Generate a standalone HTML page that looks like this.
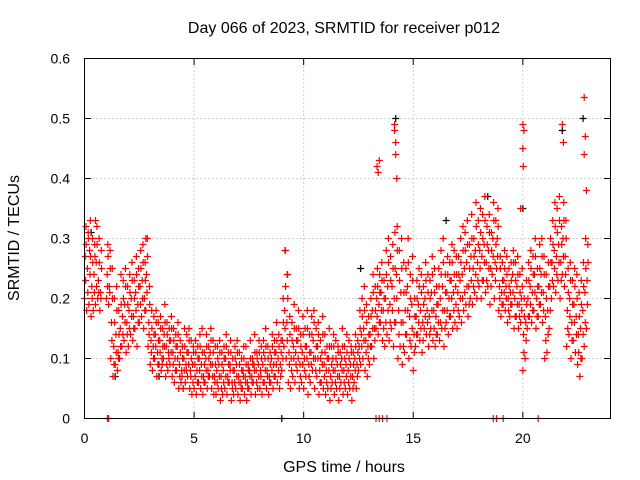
<!DOCTYPE html>
<html><head><meta charset="utf-8"><style>
html,body{margin:0;padding:0;background:#fff}
svg{display:block;font-family:"Liberation Sans",sans-serif}
</style></head><body>
<svg id="chart" width="640" height="480">
<text x="344" y="33" font-size="16" text-anchor="middle">Day 066 of 2023, SRMTID for receiver p012</text>
<text x="344" y="472" font-size="16" text-anchor="middle">GPS time / hours</text>
<text transform="translate(19,238) rotate(-90)" font-size="16" text-anchor="middle">SRMTID / TECUs</text>
<g id="grid"></g><g id="ticks"></g><g id="black"></g><g id="red"></g>
<rect x="84.5" y="58.5" width="526" height="360" fill="none" stroke="#000"/>
</svg>
<script>
const xTicks=[0,5,10,15,20];
const yTicks=[0,0.1,0.2,0.3,0.4,0.5,0.6];
const yTickLabels=["0","0.1","0.2","0.3","0.4","0.5","0.6"];
const slotStart=0, slotStep=0.1;
const slotValues=[
[.20,.27,.32],[.18,.25,.31],[.19,.28,.33],[.17,.22,.30],[.18,.24,.29],[.19,.26,.32],[.20,.23,.30],[.18,.21,.28],[-1,-1,-1],[-1,-1,-1],
[.20,.24,.29],[.19,.22,.28],[.10,.16,.25],[.07,.12,.20],[.09,.14,.22],[.08,.11,.18],[.10,.15,.24],[.12,.17,.23],[.13,.19,.25],[.11,.16,.22],
[.12,.18,.24],[.14,.20,.26],[.13,.17,.23],[.15,.21,.27],[.12,.19,.25],[.16,.22,.28],[.17,.23,.29],[.15,.20,.26],[.18,.24,.30],[.12,.16,.22],
[.09,.13,.18],[.08,.12,.17],[.10,.14,.18],[.07,.11,.16],[.09,.13,.17],[.08,.10,.15],[.10,.14,.19],[.07,.12,.16],[.08,.11,.15],[.09,.13,.17],
[.07,.11,.15],[.06,.10,.14],[.08,.12,.16],[.05,.09,.13],[.06,.08,.12],[.05,.10,.15],[.06,.09,.14],[.07,.11,.15],[.05,.08,.13],[.04,.09,.12],
[.05,.09,.13],[.04,.08,.12],[.06,.10,.14],[.05,.09,.15],[.04,.07,.11],[.06,.10,.14],[.05,.08,.12],[.07,.11,.15],[.05,.09,.13],[.04,.07,.12],
[.04,.08,.12],[.05,.09,.13],[.03,.07,.11],[.04,.08,.12],[.05,.10,.14],[.04,.07,.11],[.06,.09,.13],[.03,.06,.10],[.04,.08,.12],[.05,.09,.13],
[.04,.07,.11],[.03,.06,.10],[.05,.08,.12],[.04,.07,.12],[.03,.06,.09],[.05,.08,.13],[.04,.07,.10],[.06,.09,.14],[.04,.08,.11],[.05,.09,.13],
[.05,.08,.12],[.04,.09,.13],[.06,.10,.15],[.05,.08,.12],[.04,.07,.11],[.06,.10,.14],[.05,.09,.13],[.07,.11,.16],[.06,.10,.14],[.05,.09,.13],
[.08,.13,.20],[.12,.18,.28],[.10,.16,.24],[.06,.11,.17],[.05,.10,.16],[.07,.12,.19],[.06,.11,.15],[.08,.13,.18],[.05,.09,.14],[.06,.11,.17],
[.05,.10,.15],[.07,.12,.18],[.04,.09,.14],[.06,.11,.17],[.08,.13,.18],[.05,.10,.15],[.07,.12,.16],[.04,.08,.13],[.06,.11,.17],[.05,.09,.14],
[.04,.08,.12],[.05,.10,.15],[.03,.07,.12],[.06,.10,.14],[.04,.08,.13],[.05,.09,.12],[.03,.07,.11],[.06,.10,.15],[.04,.08,.12],[.05,.09,.14],
[.04,.08,.13],[.05,.09,.12],[.03,.07,.11],[.06,.10,.14],[.05,.09,.13],[.08,.12,.18],[.09,.14,.20],[.10,.15,.22],[.08,.13,.19],[.07,.12,.17],
[.09,.14,.20],[.12,.18,.24],[.10,.15,.22],[.15,.20,.25],[.14,.19,.24],[.16,.21,.26],[.13,.18,.23],[.12,.20,.28],[.14,.22,.30],[.13,.19,.27],
[.15,.22,.29],[.12,.20,.31],[.16,.24,.32],[.10,.18,.28],[.12,.21,.30],[.09,.16,.26],[.11,.18,.25],[.14,.22,.30],[.10,.17,.24],[.12,.19,.27],
[.08,.14,.20],[.12,.17,.23],[.14,.19,.25],[.13,.18,.24],[.11,.16,.22],[.15,.20,.26],[.14,.18,.24],[.12,.17,.23],[.15,.21,.27],[.13,.18,.25],
[.12,.17,.22],[.14,.19,.25],[.13,.20,.28],[.15,.22,.30],[.12,.18,.24],[.16,.21,.27],[.14,.20,.26],[.17,.23,.29],[.15,.21,.28],[.16,.22,.27],
[.15,.21,.27],[.17,.23,.30],[.16,.24,.32],[.18,.25,.31],[.19,.26,.33],[.17,.22,.29],[.20,.27,.34],[.19,.25,.30],[.21,.28,.36],[.20,.26,.33],
[.22,.28,.35],[.20,.27,.34],[.23,.29,.37],[.21,.26,.32],[.22,.28,.34],[.19,.25,.31],[.24,.30,.36],[.20,.26,.33],[.25,.30,.35],[.18,.22,.27],
[.17,.21,.26],[.19,.23,.28],[.18,.22,.27],[.16,.20,.25],[.17,.21,.26],[.19,.24,.28],[.15,.20,.26],[.17,.22,.27],[.15,.19,.24],[.16,.20,.25],
[.08,.14,.20],[.10,.16,.23],[.15,.20,.26],[.17,.22,.28],[.16,.21,.27],[.18,.24,.30],[.15,.20,.25],[.17,.22,.29],[.19,.24,.30],[.16,.21,.27],
[.10,.17,.24],[.11,.18,.26],[.15,.22,.30],[.20,.26,.33],[.22,.28,.36],[.21,.27,.35],[.23,.29,.37],[.20,.26,.32],[.24,.30,.36],[.22,.27,.33],
[.12,.18,.25],[.14,.20,.26],[.10,.16,.23],[.13,.19,.25],[.11,.17,.24],[.09,.14,.21],[.07,.15,.23],[.10,.18,.26],[.12,.21,.30],[.15,.23,.29]
];
const slotValues2=[
[.23,.29],[.21,.30],[.24,.27],[.20,.26],[.21,.27],[.22,.29],[.21,.26],[.20,.25],[-1,-1],[-1,-1],
[.22,.27],[.21,.25],[.13,.20],[.09,.16],[.11,.18],[.10,.14],[.12,.19],[.14,.20],[.16,.22],[.14,.19],
[.15,.21],[.17,.23],[.15,.20],[.18,.24],[.16,.22],[.19,.25],[.20,.26],[.18,.23],[.21,.27],[.14,.19],
[.11,.15],[.10,.14],[.12,.16],[.09,.13],[.11,.15],[.09,.12],[.12,.16],[.09,.14],[.10,.13],[.11,.15],
[.09,.13],[.08,.12],[.10,.14],[.07,.11],[.07,.10],[.08,.12],[.08,.11],[.09,.13],[.07,.10],[.06,.11],
[.07,.11],[.06,.10],[.08,.12],[.07,.11],[.06,.09],[.08,.12],[.07,.10],[.09,.13],[.07,.11],[.06,.09],
[.06,.10],[.07,.11],[.05,.09],[.06,.10],[.07,.12],[.06,.09],[.08,.11],[.05,.08],[.06,.10],[.07,.11],
[.06,.09],[.05,.08],[.07,.10],[.06,.09],[.05,.08],[.07,.10],[.06,.09],[.08,.11],[.06,.10],[.07,.11],
[.07,.10],[.06,.11],[.08,.12],[.07,.10],[.06,.09],[.08,.12],[.07,.11],[.09,.13],[.08,.12],[.07,.11],
[.10,.16],[.15,.22],[.13,.20],[.09,.14],[.08,.13],[.10,.15],[.09,.13],[.10,.15],[.07,.12],[.09,.14],
[.08,.12],[.10,.15],[.07,.11],[.09,.14],[.10,.16],[.08,.12],[.10,.14],[.06,.10],[.09,.14],[.07,.11],
[.06,.10],[.08,.12],[.05,.09],[.08,.12],[.06,.10],[.07,.11],[.05,.09],[.08,.12],[.06,.10],[.07,.11],
[.06,.10],[.07,.11],[.05,.09],[.08,.12],[.07,.11],[.10,.15],[.12,.17],[.13,.18],[.11,.16],[.10,.14],
[.12,.17],[.15,.21],[.13,.18],[.17,.22],[.16,.21],[.18,.23],[.15,.20],[.16,.24],[.18,.26],[.16,.23],
[.18,.25],[.16,.25],[.20,.28],[.14,.23],[.16,.25],[.12,.21],[.14,.21],[.18,.26],[.13,.20],[.15,.23],
[.11,.17],[.14,.20],[.16,.22],[.15,.21],[.13,.19],[.17,.23],[.16,.21],[.14,.20],[.18,.24],[.15,.21],
[.14,.19],[.16,.22],[.16,.24],[.18,.26],[.15,.21],[.18,.24],[.17,.23],[.20,.26],[.18,.24],[.19,.24],
[.18,.24],[.20,.26],[.20,.28],[.21,.28],[.22,.29],[.19,.25],[.23,.30],[.22,.27],[.24,.32],[.23,.29],
[.25,.31],[.23,.30],[.26,.33],[.23,.29],[.25,.31],[.22,.28],[.27,.33],[.23,.29],[.27,.32],[.20,.25],
[.19,.23],[.21,.25],[.20,.24],[.18,.22],[.19,.23],[.21,.26],[.17,.23],[.19,.24],[.17,.21],[.18,.22],
[.11,.17],[.13,.19],[.17,.23],[.19,.25],[.18,.24],[.21,.27],[.17,.22],[.19,.25],[.21,.27],[.18,.24],
[.13,.20],[.14,.22],[.18,.26],[.23,.29],[.25,.32],[.24,.31],[.26,.33],[.23,.29],[.27,.33],[.24,.30],
[.15,.21],[.17,.23],[.13,.19],[.16,.22],[.14,.20],[.11,.17],[.10,.19],[.14,.22],[.16,.25],[.19,.26]
];
const extraTimes=[13.35,13.4,13.45,14.15,14.2,14.2,14.25,14.15,9.15,9.25,20.0,20.05,20.0,20.02,19.9,21.8,21.85,22.8,22.85,22.8,22.9,2.8,0.5,1.05,1.1,13.3,13.45,13.6,13.8,18.65,18.8,19.1,20.7];
const extraValues=[.42,.41,.43,.49,.46,.44,.40,.48,.28,.24,.49,.48,.45,.42,.35,.49,.46,.535,.47,.44,.38,.30,.33,0,0,0,0,0,0,0,0,0,0];
const blackTimes=[14.2,20.0,9.0,21.8,22.75,0.3,4.5,12.6,16.5,18.4,3.4,1.4];
const blackValues=[.50,.35,0,.48,.50,.31,.05,.25,.33,.37,.07,.07];
const ns="http://www.w3.org/2000/svg";
const X=t=>84.5+t*(526/24), Y=v=>418.5-v*600;
function mk(tag,at){const e=document.createElementNS(ns,tag);for(const k in at)e.setAttribute(k,at[k]);return e;}
const grid=document.getElementById('grid'),ticks=document.getElementById('ticks');
xTicks.forEach(t=>{const x=X(t);
 if(t>0){const g=mk('line',{x1:x,x2:x,y1:58.5,y2:418.5,stroke:'#a0a0a0','stroke-dasharray':'1,3'});grid.appendChild(g);}
 ticks.appendChild(mk('line',{x1:x,x2:x,y1:418.5,y2:412,stroke:'#000'}));
 ticks.appendChild(mk('line',{x1:x,x2:x,y1:58.5,y2:65,stroke:'#000'}));
 const l=mk('text',{x:x,y:443,'font-size':14,'text-anchor':'middle'});l.textContent=t;
 ticks.appendChild(l);});
yTicks.forEach((v,i)=>{const y=Y(v);
 if(v>0&&v<0.6){const g=mk('line',{x1:84.5,x2:610.5,y1:y,y2:y,stroke:'#a0a0a0','stroke-dasharray':'1,3'});grid.appendChild(g);}
 ticks.appendChild(mk('line',{x1:84.5,x2:91,y1:y,y2:y,stroke:'#000'}));
 ticks.appendChild(mk('line',{x1:610.5,x2:604,y1:y,y2:y,stroke:'#000'}));
 const l=mk('text',{x:70,y:y+5,'font-size':14,'text-anchor':'end'});l.textContent=yTickLabels[i];
 ticks.appendChild(l);});
function plus(g,t,v,col,name){const x=X(t),y=Y(v);
 const p=mk('path',{d:`M${x-3.5} ${y}H${x+3.5}M${x} ${y-3.5}V${y+3.5}`,stroke:col,'stroke-width':1.2,fill:'none'});
 
 
 g.appendChild(p);}
const red=document.getElementById('red'),black=document.getElementById('black');
blackTimes.forEach((t,i)=>plus(black,t,blackValues[i],'#000','srmtid-point-all'));
slotValues.forEach((s,i)=>{const t0=slotStart+i*slotStep;
 s.forEach((v,j)=>{if(v>=0)plus(red,t0+j*0.033,v,'#f00','srmtid-point');});});
slotValues2.forEach((s,i)=>{const t0=slotStart+i*slotStep+0.05;
 s.forEach((v,j)=>{if(v>=0)plus(red,t0+j*0.025,v,'#f00','srmtid-point');});});
extraTimes.forEach((t,i)=>plus(red,t,extraValues[i],'#f00','srmtid-point'));
</script>
</body></html>
